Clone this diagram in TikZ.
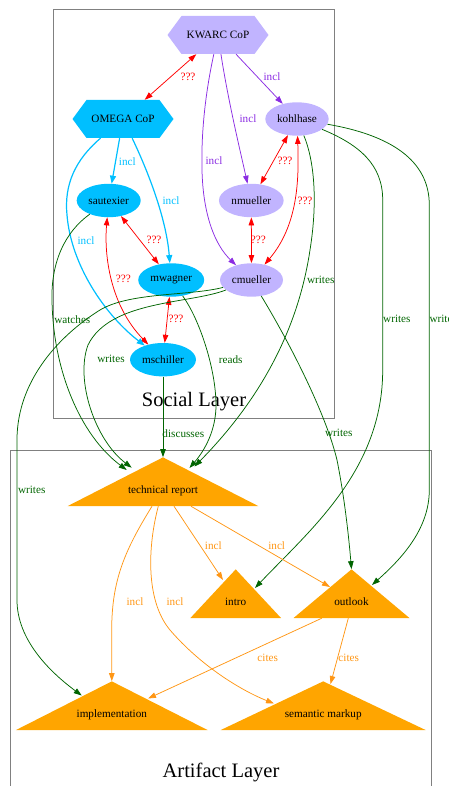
\documentclass[tikz,border=0pt]{standalone}
\usepackage{fontspec}
\setmainfont{Liberation Serif}
\usetikzlibrary{arrows.meta,shapes.geometric,calc}
\definecolor{purplefill}{RGB}{193,180,255}
\definecolor{cyanfill}{RGB}{0,191,255}
\definecolor{purpleedge}{RGB}{138,43,226}
\definecolor{greenedge}{RGB}{0,100,0}
\definecolor{orangefill}{RGB}{255,165,0}
\definecolor{orangeedge}{RGB}{255,150,20}
\definecolor{clustergray}{RGB}{128,128,128}
\begin{document}
\begin{tikzpicture}[x=1pt,y=-1pt,
  every node/.style={font=\fontsize{11.2}{13}\selectfont},
  hexa/.style={minimum width=101pt, minimum height=38pt, inner sep=0pt,
    path picture={\fill[#1] (path picture bounding box.west)
      -- ([xshift=14pt]path picture bounding box.north west)
      -- ([xshift=-14pt]path picture bounding box.north east)
      -- (path picture bounding box.east)
      -- ([xshift=-14pt]path picture bounding box.south east)
      -- ([xshift=14pt]path picture bounding box.south west) -- cycle;}},
  person/.style={ellipse, fill=#1, inner sep=0pt, minimum height=33.4pt},
  tri/.style={minimum width=#1, minimum height=48.7pt, inner sep=0pt,
    text height=23.5pt, text depth=0pt,
    path picture={\fill[orangefill] (path picture bounding box.south west)
      -- (path picture bounding box.north)
      -- (path picture bounding box.south east) -- cycle;}},
  tip/.style={Triangle[length=8pt,width=5.5pt]},
  pe/.style={draw=purpleedge, line width=0.75pt, -{Triangle[length=8pt,width=5.5pt]}},
  ce/.style={draw=cyanfill, line width=1.2pt, -{Triangle[length=8pt,width=6pt]}},
  re/.style={draw=red, line width=0.75pt, {Triangle[length=8pt,width=5.5pt]}-{Triangle[length=8pt,width=5.5pt]}},
  ge/.style={draw=greenedge, line width=0.75pt, -{Triangle[length=8pt,width=5.5pt]}},
  oe/.style={draw=orangeedge, line width=0.75pt, -{Triangle[length=8pt,width=5.5pt]}},
  lbl/.style={inner sep=0pt, text=#1},
  title/.style={font=\fontsize{20.5}{24}\selectfont, anchor=base, inner sep=0pt}]
\useasboundingbox (0,0) rectangle (449,786);
\clip (0,0) rectangle (449,786);
% clusters
\draw[clustergray, line width=0.7pt] (53.3,9.3) rectangle (334.3,418.3);
\draw[clustergray, line width=0.7pt] (10.7,450.7) rectangle (431.7,792);
\node[title] (socialtitle) at (194,406.5) {Social Layer};
\node[title] (artifacttitle) at (221,777.3) {Artifact Layer};
% nodes
\node[hexa=purplefill] (kwarc) at (218,35) {KWARC CoP};
\node[hexa=cyanfill] (omega) at (123,119) {OMEGA CoP};
\node[person=purplefill, minimum width=63.4pt] (kohlhase) at (297,119) {kohlhase};
\node[person=cyanfill, minimum width=64pt] (sautexier) at (108.7,200.5) {sautexier};
\node[person=purplefill, minimum width=64.7pt] (nmueller) at (251.3,200.5) {nmueller};
\node[person=cyanfill, minimum width=66pt] (mwagner) at (171.2,280) {mwagner};
\node[person=purplefill, minimum width=63pt] (cmueller) at (251.5,280) {cmueller};
\node[person=cyanfill, minimum width=66pt] (mschiller) at (163,359.7) {mschiller};
\node[tri=190.6pt] (techrep) at (163,481.7) {technical report};
\node[tri=90.7pt] (intro) at (235.7,593.7) {intro};
\node[tri=116pt] (outlook) at (351.5,593.7) {outlook};
\node[tri=191.7pt] (impl) at (111.8,705.7) {implementation};
\node[tri=205pt] (semantic) at (323.2,705.7) {semantic markup};
% edge end points on the triangles
\coordinate (trL1) at (126.7,470);
\coordinate (trL2) at (131.7,467.7);
\coordinate (trR1) at (189.5,468);
\coordinate (trR2) at (194.5,466.5);
\coordinate (introR) at (255,588);
\coordinate (introL) at (223,580);
\coordinate (outR) at (372,585);
\coordinate (outL) at (330,587);
\coordinate (implL) at (81.7,695.5);
\coordinate (implR) at (148,698.5);
\coordinate (semL) at (274,703.5);
\coordinate (semT) at (330.5,684);
\coordinate (outB1) at ([xshift=-29.8pt]outlook.south);
\coordinate (outB2) at ([xshift=-3.2pt]outlook.south);
\coordinate (trB1) at ([xshift=-11pt]techrep.south);
\coordinate (trB2) at ([xshift=-4.7pt]techrep.south);
\coordinate (trB3) at ([xshift=11pt]techrep.south);
\coordinate (trB4) at ([xshift=28pt]techrep.south);
% purple
\draw[pe] (kwarc) -- (kohlhase);
\draw[pe] (kwarc) .. controls (228,100) and (240,150) .. (nmueller);
\draw[pe] (kwarc) .. controls (206,90) and (201,130) .. (202,170)
  .. controls (203,215) and (215,245) .. (cmueller);
% red
\draw[re] (kwarc) -- (omega);
\draw[re] (kohlhase) -- (nmueller);
\draw[re] (kohlhase) .. controls (299,180) and (298,225) .. (cmueller);
\draw[re] (nmueller) -- (cmueller);
\draw[re] (sautexier) -- (mwagner);
\draw[re] (sautexier) .. controls (104,255) and (110,305) .. (mschiller);
\draw[re] (mwagner) -- (mschiller);
% cyan
\draw[ce] (omega) -- (sautexier);
\draw[ce] (omega) .. controls (145,165) and (166,215) .. (mwagner);
\draw[ce] (omega) .. controls (75,160) and (64,185) .. (67,215)
  .. controls (71,265) and (105,315) .. (mschiller);
% green
\draw[ge] (sautexier) .. controls (65,232) and (51,262) .. (52,300)
  .. controls (53,370) and (80,435) .. (trL1);
\draw[ge] (cmueller) .. controls (190,304) and (110,300) .. (88,345)
  .. controls (75,380) and (95,440) .. (trL2);
\draw[ge] (cmueller) .. controls (190,296) and (130,292) .. (100,310)
  .. controls (60,335) and (17,380) .. (17,440) -- (17,600)
  .. controls (17,640) and (50,672) .. (implL);
\draw[ge] (mwagner) .. controls (200,320) and (216,370) .. (216,405)
  .. controls (216,430) and (205,450) .. (trR1);
\draw[ge] (kohlhase) .. controls (314,160) and (318,200) .. (310,250)
  .. controls (298,330) and (260,400) .. (trR2);
\draw[ge] (mschiller) -- (techrep.north);
\draw[ge] (cmueller) .. controls (285,335) and (325,410) .. (337,460)
  .. controls (345,500) and (349,540) .. (outlook.north);
\draw[ge] (kohlhase) .. controls (360,145) and (382.7,165) .. (382.7,200)
  -- (382.7,370) .. controls (382.7,470) and (310,530) .. (introR);
\draw[ge] (kohlhase) .. controls (390,135) and (429.3,160) .. (429.3,205)
  -- (429.3,490) .. controls (429.3,530) and (400,560) .. (outR);
% orange
\draw[oe] (trB3) -- (introL);
\draw[oe] (trB4) -- (outL);
\draw[oe] (trB1) .. controls (125,550) and (111.7,580) .. (111.7,630) -- (impl.north);
\draw[oe] (trB2) .. controls (148,545) and (145,600) .. (170,630)
  .. controls (200,665) and (240,690) .. (semL);
\draw[oe] (outB1) -- (implR);
\draw[oe] (outB2) -- (semT);
% labels
\node[lbl=purpleedge] (l1) at (272,77) {incl};
\node[lbl=purpleedge] (l2) at (248,119) {incl};
\node[lbl=purpleedge] (l3) at (214,161) {incl};
\node[lbl=red] (l4) at (188,77) {???};
\node[lbl=red] (l5) at (285,161) {???};
\node[lbl=red] (l6) at (305,200.7) {???};
\node[lbl=red] (l7) at (258.3,240) {???};
\node[lbl=red] (l8) at (154,240) {???};
\node[lbl=red] (l9) at (123.3,279.3) {???};
\node[lbl=red] (l10) at (176,319.3) {???};
\node[lbl=cyanfill] (l11) at (127.3,161.3) {incl};
\node[lbl=cyanfill] (l12) at (171,200.7) {incl};
\node[lbl=cyanfill] (l13) at (86,240.7) {incl};
\node[lbl=greenedge] (l14) at (72.3,319.3) {watches};
\node[lbl=greenedge] (l15) at (111,359.3) {writes};
\node[lbl=greenedge] (l16) at (230.7,359.3) {reads};
\node[lbl=greenedge] (l17) at (320.7,280) {writes};
\node[lbl=greenedge, anchor=west] (l18) at (383,319.3) {writes};
\node[lbl=greenedge, anchor=west] (l19) at (429.3,319.3) {writes};
\node[lbl=greenedge] (l20) at (183.3,433.3) {discusses};
\node[lbl=greenedge] (l21) at (338.8,433.3) {writes};
\node[lbl=greenedge] (l22) at (31.7,489.7) {writes};
\node[lbl=orangeedge] (l23) at (213.3,545.7) {incl};
\node[lbl=orangeedge] (l24) at (276.7,545.7) {incl};
\node[lbl=orangeedge] (l25) at (135,601.7) {incl};
\node[lbl=orangeedge] (l26) at (175,601.7) {incl};
\node[lbl=orangeedge] (l27) at (267.7,657.7) {cites};
\node[lbl=orangeedge] (l28) at (348.7,657.7) {cites};
\end{tikzpicture}
\end{document}
